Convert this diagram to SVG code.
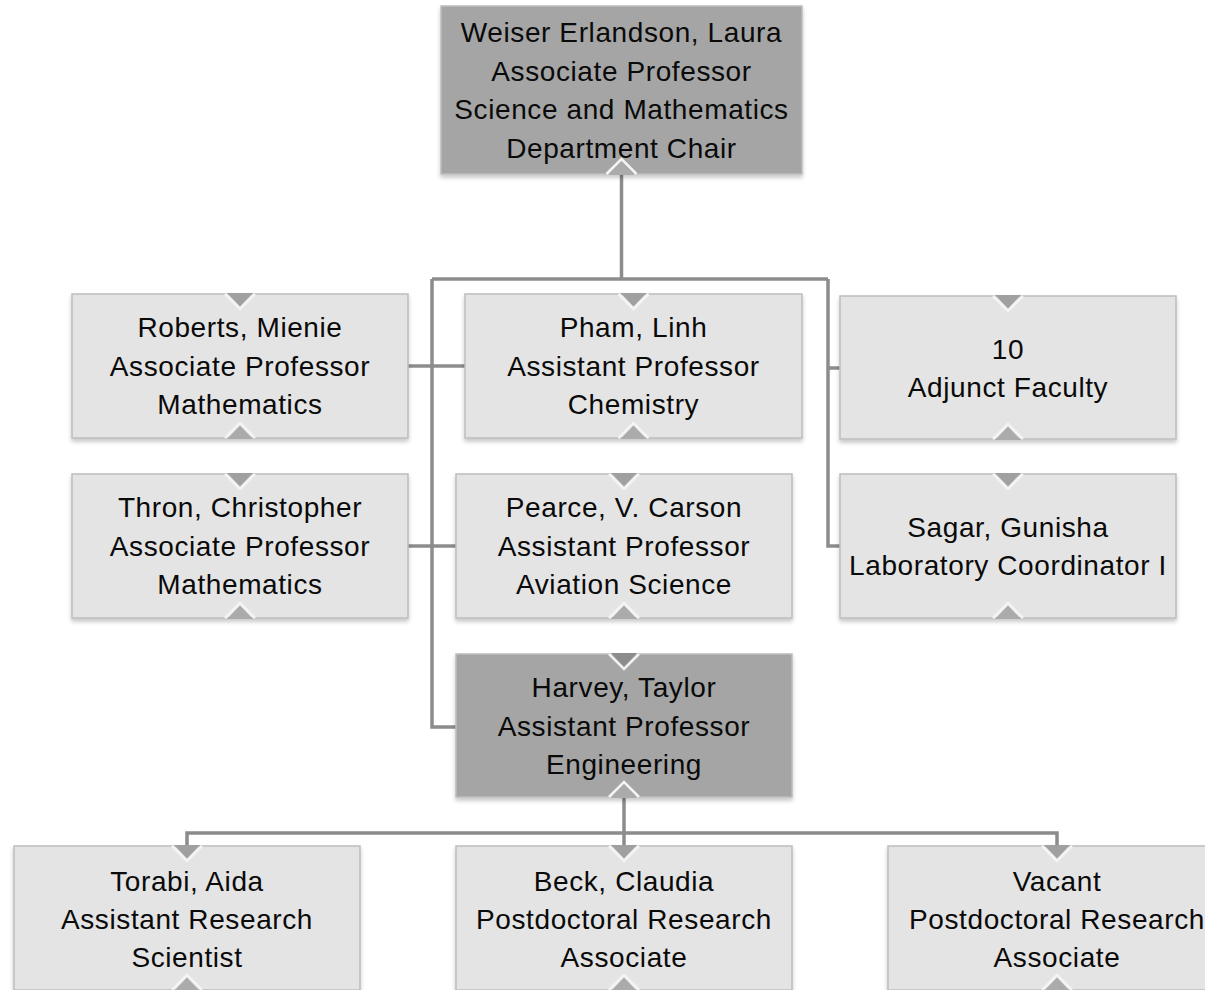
<svg xmlns="http://www.w3.org/2000/svg" xmlns:xlink="http://www.w3.org/1999/xlink" width="1205" height="990" viewBox="0 0 1205 990">
<style>
  .box { stroke: #bdbdbd; stroke-width: 1.5; filter: url(#sh); }
  .light { fill: #e4e4e4; }
  .dark { fill: #a5a5a5; }
  .t { font-family: "Liberation Sans", Arial, sans-serif; font-size: 28px; letter-spacing: 0.6px; fill: #0a0a0a; text-anchor: middle; }
  .conn { fill: none; stroke: #8c8c8c; stroke-width: 3.5; }
</style>
<defs>
  <filter id="sh" x="-5%" y="-5%" width="110%" height="120%">
    <feDropShadow dx="0" dy="3" stdDeviation="2" flood-color="#000" flood-opacity="0.22"/>
  </filter>
  <g id="nd">
    <polyline points="-15,0 0,15 15,0" fill="none" stroke="#f4f4f4" stroke-width="2.5"/>
    <polygon points="-13,-1 13,-1 0,12.5" fill="#a0a0a0"/>
  </g>
  <g id="ndk">
    <polyline points="-15,0 0,15 15,0" fill="none" stroke="#f0f0f0" stroke-width="2.5"/>
    <polygon points="-13,-1 13,-1 0,12.5" fill="#8c8c8c"/>
  </g>
  <g id="nu">
    <polyline points="-15,0 0,-15 15,0" fill="none" stroke="#f4f4f4" stroke-width="2.5"/>
    <polygon points="-13,1 13,1 0,-12.5" fill="#ababab"/>
  </g>
</defs>
<rect width="1205" height="990" fill="#fff"/>

<g id="connectors">
  <path class="conn" d="M621.5 174 V279"/>
  <path class="conn" d="M432 279 H828"/>
  <path class="conn" d="M432 279 V727 H456"/>
  <path class="conn" d="M408 366 H465"/>
  <path class="conn" d="M408 546 H456"/>
  <path class="conn" d="M828 279 V546 H840"/>
  <path class="conn" d="M828 368 H840"/>
  <path class="conn" d="M624 797 V846"/>
  <path class="conn" d="M187 846 V833 H1057 V846"/>
</g>

<g id="n-weiser">
  <rect class="box dark" x="441" y="6" width="361" height="168"/>
  <use xlink:href="#nu" x="621.5" y="174"/>
  <text class="t" x="621.5" y="42">Weiser Erlandson, Laura</text>
  <text class="t" x="621.5" y="81">Associate Professor</text>
  <text class="t" x="621.5" y="119">Science and Mathematics</text>
  <text class="t" x="621.5" y="158">Department Chair</text>
</g>

<g id="n-roberts">
  <rect class="box light" x="72" y="294" width="336" height="144"/>
  <use xlink:href="#nd" x="240" y="294"/>
  <use xlink:href="#nu" x="240" y="438"/>
  <text class="t" x="240" y="337">Roberts, Mienie</text>
  <text class="t" x="240" y="376">Associate Professor</text>
  <text class="t" x="240" y="414">Mathematics</text>
</g>

<g id="n-pham">
  <rect class="box light" x="465" y="294" width="337" height="144"/>
  <use xlink:href="#nd" x="633.5" y="294"/>
  <use xlink:href="#nu" x="633.5" y="438"/>
  <text class="t" x="633.5" y="337">Pham, Linh</text>
  <text class="t" x="633.5" y="376">Assistant Professor</text>
  <text class="t" x="633.5" y="414">Chemistry</text>
</g>

<g id="n-adjunct">
  <rect class="box light" x="840" y="296" width="336" height="143"/>
  <use xlink:href="#nd" x="1008" y="296"/>
  <use xlink:href="#nu" x="1008" y="439"/>
  <text class="t" x="1008" y="359">10</text>
  <text class="t" x="1008" y="397">Adjunct Faculty</text>
</g>

<g id="n-thron">
  <rect class="box light" x="72" y="474" width="336" height="144"/>
  <use xlink:href="#nd" x="240" y="474"/>
  <use xlink:href="#nu" x="240" y="618"/>
  <text class="t" x="240" y="517">Thron, Christopher</text>
  <text class="t" x="240" y="556">Associate Professor</text>
  <text class="t" x="240" y="594">Mathematics</text>
</g>

<g id="n-pearce">
  <rect class="box light" x="456" y="474" width="336" height="144"/>
  <use xlink:href="#nd" x="624" y="474"/>
  <use xlink:href="#nu" x="624" y="618"/>
  <text class="t" x="624" y="517">Pearce, V. Carson</text>
  <text class="t" x="624" y="556">Assistant Professor</text>
  <text class="t" x="624" y="594">Aviation Science</text>
</g>

<g id="n-sagar">
  <rect class="box light" x="840" y="474" width="336" height="144"/>
  <use xlink:href="#nd" x="1008" y="474"/>
  <use xlink:href="#nu" x="1008" y="618"/>
  <text class="t" x="1008" y="537">Sagar, Gunisha</text>
  <text class="t" x="1008" y="575">Laboratory Coordinator I</text>
</g>

<g id="n-harvey">
  <rect class="box dark" x="456" y="654" width="336" height="143"/>
  <use xlink:href="#ndk" x="624" y="654"/>
  <use xlink:href="#nu" x="624" y="797"/>
  <text class="t" x="624" y="697">Harvey, Taylor</text>
  <text class="t" x="624" y="736">Assistant Professor</text>
  <text class="t" x="624" y="774">Engineering</text>
</g>

<g id="n-torabi">
  <rect class="box light" x="14" y="846" width="346" height="144"/>
  <use xlink:href="#nd" x="187" y="846"/>
  <use xlink:href="#nu" x="187" y="990"/>
  <text class="t" x="187" y="891">Torabi, Aida</text>
  <text class="t" x="187" y="929">Assistant Research</text>
  <text class="t" x="187" y="967">Scientist</text>
</g>

<g id="n-beck">
  <rect class="box light" x="456" y="846" width="336" height="144"/>
  <use xlink:href="#nd" x="624" y="846"/>
  <use xlink:href="#nu" x="624" y="990"/>
  <text class="t" x="624" y="891">Beck, Claudia</text>
  <text class="t" x="624" y="929">Postdoctoral Research</text>
  <text class="t" x="624" y="967">Associate</text>
</g>

<g id="n-vacant">
  <rect class="box light" x="888" y="846" width="338" height="144"/>
  <use xlink:href="#nd" x="1057" y="846"/>
  <use xlink:href="#nu" x="1057" y="990"/>
  <text class="t" x="1057" y="891">Vacant</text>
  <text class="t" x="1057" y="929">Postdoctoral Research</text>
  <text class="t" x="1057" y="967">Associate</text>
</g>
</svg>
